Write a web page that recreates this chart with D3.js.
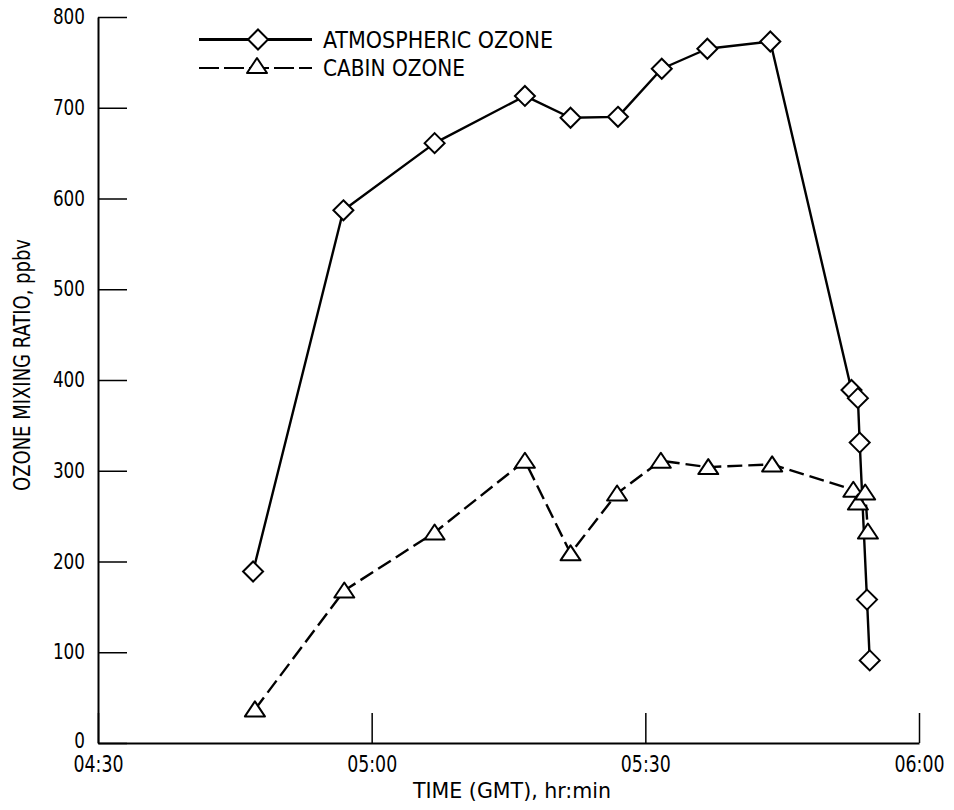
<!DOCTYPE html>
<html>
<head>
<meta charset="utf-8">
<script src="https://cdn.jsdelivr.net/npm/d3@7"></script>
<style>
  html, body { margin: 0; padding: 0; background: #fff; }
  svg { display: block; }
  text { font-family: "DejaVu Sans Condensed", "DejaVu Sans", sans-serif; fill: #000; }
</style>
</head>
<body>
<svg id="chart" width="954" height="810"></svg>
<script>
// Time in minutes after 00:00 GMT
const atmosTime  = [287.0, 296.9, 306.9, 316.8, 321.8, 327.0, 331.8, 336.8, 343.7, 352.6, 353.3, 353.5, 354.3, 354.6];
const atmosValue = [189, 587, 661, 713, 689, 690, 743, 765, 773, 389, 380, 331, 158, 91];

const cabinTime  = [287.2, 297.0, 306.9, 316.8, 321.8, 326.9, 331.7, 336.9, 343.9, 352.8, 353.3, 354.1, 354.4];
const cabinValue = [37, 168, 232, 311, 209, 275, 311, 304, 307, 279, 265, 276, 233];

const xTickValues = [270, 300, 330, 360];
const xTickLabels = ["04:30", "05:00", "05:30", "06:00"];
const yTickValues = [0, 100, 200, 300, 400, 500, 600, 700, 800];

const seriesNames = ["ATMOSPHERIC OZONE", "CABIN OZONE"];
const xTitle = "TIME (GMT),  hr:min";
const yTitle = "OZONE MIXING RATIO,  ppbv";

const svg = d3.select("#chart");
const x = d3.scaleLinear().domain([270, 360]).range([98, 919]);
const y = d3.scaleLinear().domain([0, 800]).range([743, 17]);

const atmos = atmosTime.map((t, i) => ({t, v: atmosValue[i]}));
const cabin = cabinTime.map((t, i) => ({t, v: cabinValue[i]}));

// Axes
const yAxis = d3.axisLeft(y).tickValues(yTickValues).tickSizeInner(-29).tickSizeOuter(0).tickPadding(13).tickFormat(d3.format("d"));
const gy = svg.append("g").attr("transform", `translate(${x(270)},0)`).call(yAxis);
gy.attr("font-family", null);
gy.select(".domain").attr("stroke-width", 2);
gy.selectAll(".tick line").attr("stroke-width", 1.5);
gy.selectAll(".tick text").attr("font-size", 21)
  .attr("dy", d => d === 0 ? "0.22em" : "0.32em")
  .attr("textLength", d => String(d).length * 10.7)
  .attr("lengthAdjust", "spacingAndGlyphs");

const xAxis = d3.axisBottom(x).tickValues(xTickValues).tickSizeInner(-30).tickSizeOuter(0).tickPadding(13)
  .tickFormat((d, i) => xTickLabels[i]);
const gx = svg.append("g").attr("transform", `translate(0,${y(0)})`).call(xAxis);
gx.attr("font-family", null);
gx.select(".domain").attr("stroke-width", 2);
gx.selectAll(".tick line").attr("stroke-width", 1.5);
gx.selectAll(".tick text").attr("font-size", 23)
  .attr("textLength", 50)
  .attr("lengthAdjust", "spacingAndGlyphs");

// Axis titles
svg.append("text")
  .attr("transform", `translate(30,365) rotate(-90)`)
  .attr("text-anchor", "middle")
  .attr("font-size", 23)
  .attr("textLength", 252)
  .attr("lengthAdjust", "spacingAndGlyphs")
  .text(yTitle);
svg.append("text")
  .attr("x", 512).attr("y", 798)
  .attr("text-anchor", "middle")
  .attr("font-size", 21)
  .attr("textLength", 198)
  .attr("lengthAdjust", "spacingAndGlyphs")
  .text(xTitle);

// Lines
const line = d3.line().x(d => x(d.t)).y(d => y(d.v));
svg.append("path").datum(atmos).attr("d", line)
  .attr("fill", "none").attr("stroke", "#000").attr("stroke-width", 2.4).attr("stroke-linejoin", "round");
svg.append("path").datum(cabin).attr("d", line)
  .attr("fill", "none").attr("stroke", "#000").attr("stroke-width", 2.4).attr("stroke-dasharray", "15,6");

// Markers
const diamond = (cx, cy) => `M${cx},${cy-10}L${cx+10},${cy}L${cx},${cy+10}L${cx-10},${cy}Z`;
const triangle = (cx, cy) => `M${cx},${cy-8}L${cx+10},${cy+7}L${cx-10},${cy+7}Z`;

svg.append("g").selectAll("path").data(cabin).join("path")
  .attr("d", d => triangle(x(d.t), y(d.v)))
  .attr("fill", "#fff").attr("stroke", "#000").attr("stroke-width", 2).attr("stroke-linejoin", "round");
svg.append("g").selectAll("path").data(atmos).join("path")
  .attr("d", d => diamond(x(d.t), y(d.v)))
  .attr("fill", "#fff").attr("stroke", "#000").attr("stroke-width", 2);

// Legend
const lg = svg.append("g");
lg.append("line").attr("x1", 199).attr("x2", 312).attr("y1", 39.5).attr("y2", 39.5)
  .attr("stroke", "#000").attr("stroke-width", 3);
lg.append("path").attr("d", diamond(258, 39.5)).attr("fill", "#fff").attr("stroke", "#000").attr("stroke-width", 2);
lg.append("text").attr("x", 323).attr("y", 47.5).attr("font-size", 23)
  .attr("textLength", 230).attr("lengthAdjust", "spacingAndGlyphs").text(seriesNames[0]);

lg.append("line").attr("x1", 199).attr("x2", 312).attr("y1", 68).attr("y2", 68)
  .attr("stroke", "#000").attr("stroke-width", 2).attr("stroke-dasharray", "20,5");
lg.append("path").attr("d", triangle(257, 66)).attr("fill", "#fff").attr("stroke", "#000").attr("stroke-width", 2).attr("stroke-linejoin", "round");
lg.append("text").attr("x", 323).attr("y", 76).attr("font-size", 23)
  .attr("textLength", 142).attr("lengthAdjust", "spacingAndGlyphs").text(seriesNames[1]);
</script>
</body>
</html>
